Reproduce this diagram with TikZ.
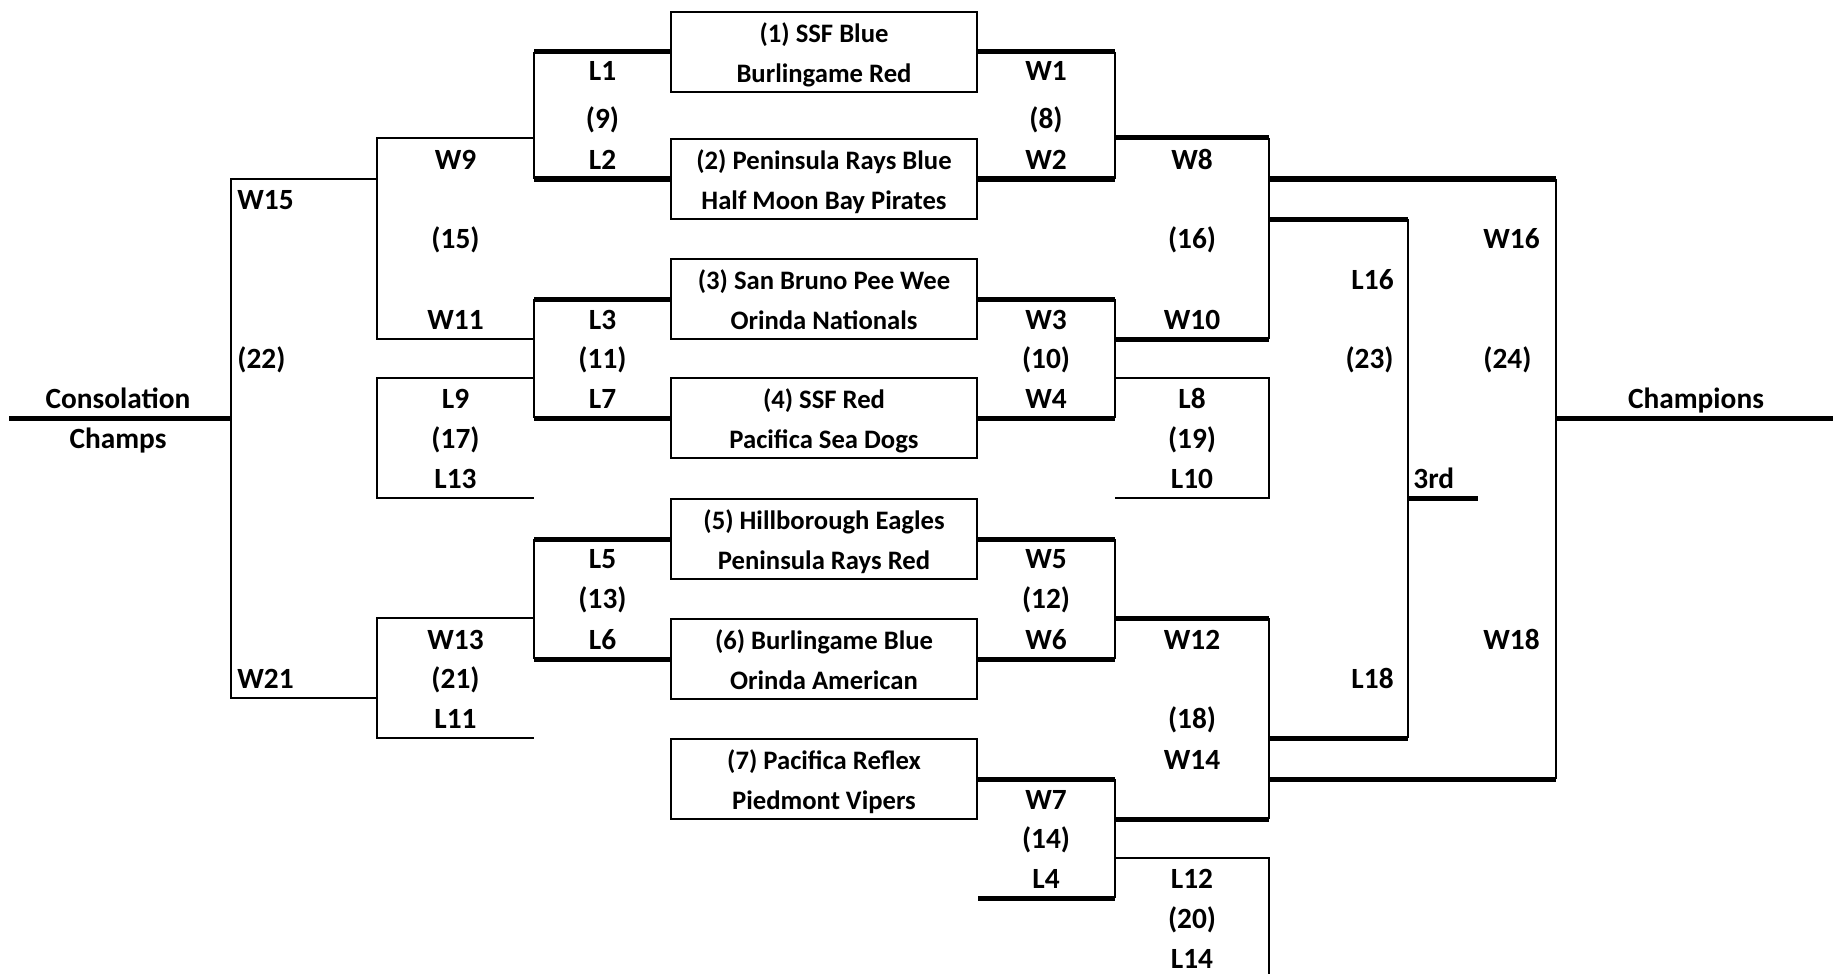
\documentclass[tikz,border=0pt]{standalone}
\usepackage{fontspec}
\setmainfont{Carlito}

\begin{document}
\begin{tikzpicture}[x=0.5pt, y=-0.5pt,
  team/.style = {draw, line width=1.35pt, minimum width=153pt, inner sep=0pt, align=center,
                 text height=35.25pt, text depth=4.75pt, font=\bfseries\fontsize{13.33}{20}\selectfont},
  lbl/.style = {anchor=base, inner sep=0pt, font=\bfseries\fontsize{14.67}{20}\selectfont},
  heavy/.style = {line width=2.5pt},
  light/.style = {line width=1pt}]
\useasboundingbox (0,0) rectangle (1837,974);

% first round
\node[team] (b1) at (824,52) {(1) SSF Blue\\Burlingame Red};
\node[team] (b2) at (824,179) {(2) Peninsula Rays Blue\\Half Moon Bay Pirates};
\node[team] (b3) at (824,299) {(3) San Bruno Pee Wee\\Orinda Nationals};
\node[team] (b4) at (824,418) {(4) SSF Red\\Pacifica Sea Dogs};
\node[team] (b5) at (824,539) {(5) Hillborough Eagles\\Peninsula Rays Red};
\node[team] (b6) at (824,659) {(6) Burlingame Blue\\Orinda American};
\node[team] (b7) at (824,779) {(7) Pacifica Reflex\\Piedmont Vipers};

% bracket corners, losers side
\coordinate (p9a) at (534,52);   \coordinate (p9b) at (534,179);
\coordinate (p11a) at (534,299); \coordinate (p11b) at (534,418);
\coordinate (p13a) at (534,539); \coordinate (p13b) at (534,659);
\coordinate (p15a) at (377,138); \coordinate (p15b) at (377,339);
\coordinate (p17a) at (377,378); \coordinate (p17b) at (377,498);
\coordinate (p21a) at (377,618); \coordinate (p21b) at (377,738);
\coordinate (p22a) at (231,179); \coordinate (p22b) at (231,698);
\coordinate (consol) at (9,418);

% bracket corners, winners side
\coordinate (p8a) at (1115,52);   \coordinate (p8b) at (1115,179);
\coordinate (p10a) at (1115,299); \coordinate (p10b) at (1115,418);
\coordinate (p12a) at (1115,539); \coordinate (p12b) at (1115,659);
\coordinate (p14a) at (1115,779); \coordinate (p14b) at (1115,898);
\coordinate (p16a) at (1269,138); \coordinate (p16b) at (1269,339);
\coordinate (p19a) at (1269,378); \coordinate (p19b) at (1269,498);
\coordinate (p18a) at (1269,618); \coordinate (p18b) at (1269,819);
\coordinate (p20a) at (1269,858); \coordinate (p20b) at (1269,974);
\coordinate (p23a) at (1408,219); \coordinate (p23b) at (1408,738);
\coordinate (p24a) at (1556,179); \coordinate (p24b) at (1556,779);
\coordinate (third) at (1478,498);
\coordinate (champ) at (1833,418);

% losers side
\draw[heavy] (b1.west) -- (p9a) (b2.west) -- (p9b);
\draw[light] (p9a) -- (p9b);
\draw[heavy] (b3.west) -- (p11a) (b4.west) -- (p11b);
\draw[light] (p11a) -- (p11b);
\draw[heavy] (b5.west) -- (p13a) (b6.west) -- (p13b);
\draw[light] (p13a) -- (p13b);
\draw[light] (p9a |- p15a) -- (p15a) -- (p15b) -- (p11a |- p15b);
\draw[light] (p11a |- p17a) -- (p17a) -- (p17b) -- (p11a |- p17b);
\draw[light] (p13a |- p21a) -- (p21a) -- (p21b) -- (p13a |- p21b);
\draw[light] (p15a |- p22a) -- (p22a) -- (p22b) -- (p21a |- p22b);
\draw[heavy] (consol) -- (consol -| p22a);

% winners side
\draw[heavy] (b1.east) -- (p8a) (b2.east) -- (p8b);
\draw[light] (p8a) -- (p8b);
\draw[heavy] (b3.east) -- (p10a) (b4.east) -- (p10b);
\draw[light] (p10a) -- (p10b);
\draw[heavy] (b5.east) -- (p12a) (b6.east) -- (p12b);
\draw[light] (p12a) -- (p12b);
\draw[heavy] (b7.east) -- (p14a) (b7.east |- p14b) -- (p14b);
\draw[light] (p14a) -- (p14b);
\draw[heavy] (p8a |- p16a) -- (p16a) (p10a |- p16b) -- (p16b);
\draw[light] (p16a) -- (p16b);
\draw[light] (p10a |- p19a) -- (p19a) -- (p19b) -- (p10a |- p19b);
\draw[heavy] (p12a |- p18a) -- (p18a) (p14a |- p18b) -- (p18b);
\draw[light] (p18a) -- (p18b);
\draw[light] (p14a |- p20a) -- (p20a) -- (p20b);
\draw[heavy] (p16a |- p23a) -- (p23a) (p18a |- p23b) -- (p23b);
\draw[light] (p23a) -- (p23b);
\draw[heavy] (p23a |- third) -- (third);
\draw[heavy] (p16a |- p24a) -- (p24a) (p18a |- p24b) -- (p24b);
\draw[light] (p24a) -- (p24b);
\draw[heavy] (p24a |- champ) -- (champ);

% labels, losers side
\node[lbl] (l1) at (602.5,80.5) {L1};
\node[lbl] (n9) at (602.5,128.5) {(9)};
\node[lbl] (l2) at (602.5,169.5) {L2};
\node[lbl] (l3) at (602.5,329.5) {L3};
\node[lbl] (n11) at (602.5,368.5) {(11)};
\node[lbl] (l7) at (602.5,408.5) {L7};
\node[lbl] (l5) at (602.5,568.5) {L5};
\node[lbl] (n13) at (602.5,608.5) {(13)};
\node[lbl] (l6) at (602.5,649.5) {L6};
\node[lbl] (w9) at (455.5,169.5) {W9};
\node[lbl] (n15) at (455.5,248.5) {(15)};
\node[lbl] (w11) at (455.5,329.5) {W11};
\node[lbl] (l9) at (455.5,408.5) {L9};
\node[lbl] (n17) at (455.5,448.5) {(17)};
\node[lbl] (l13) at (455.5,488.5) {L13};
\node[lbl] (w13) at (455.5,649.5) {W13};
\node[lbl] (n21) at (455.5,688.5) {(21)};
\node[lbl] (l11) at (455.5,728.5) {L11};
\node[lbl, anchor=base west] (w15) at (237,209.5) {W15};
\node[lbl, anchor=base west] (n22) at (237,368.5) {(22)};
\node[lbl, anchor=base west] (w21) at (237,688.5) {W21};
\node[lbl] (cons) at (118,408.5) {Consolation};
\node[lbl] (chmp) at (118,448.5) {Champs};

% labels, winners side
\node[lbl] (w1) at (1046,80.5) {W1};
\node[lbl] (n8) at (1046,128.5) {(8)};
\node[lbl] (w2) at (1046,169.5) {W2};
\node[lbl] (w3) at (1046,329.5) {W3};
\node[lbl] (n10) at (1046,368.5) {(10)};
\node[lbl] (w4) at (1046,408.5) {W4};
\node[lbl] (w5) at (1046,568.5) {W5};
\node[lbl] (n12) at (1046,608.5) {(12)};
\node[lbl] (w6) at (1046,649.5) {W6};
\node[lbl] (w7) at (1046,809.5) {W7};
\node[lbl] (n14) at (1046,848.5) {(14)};
\node[lbl] (l4) at (1046,888.5) {L4};
\node[lbl] (w8) at (1192,169.5) {W8};
\node[lbl] (n16) at (1192,248.5) {(16)};
\node[lbl] (w10) at (1192,329.5) {W10};
\node[lbl] (l8) at (1192,408.5) {L8};
\node[lbl] (n19) at (1192,448.5) {(19)};
\node[lbl] (l10) at (1192,488.5) {L10};
\node[lbl] (w12) at (1192,649.5) {W12};
\node[lbl] (n18) at (1192,728.5) {(18)};
\node[lbl] (w14) at (1192,769.5) {W14};
\node[lbl] (l12) at (1192,888.5) {L12};
\node[lbl] (n20) at (1192,928.5) {(20)};
\node[lbl] (l14) at (1192,968.5) {L14};
\node[lbl, anchor=base east] (l16) at (1394,289.5) {L16};
\node[lbl, anchor=base east] (n23) at (1394,368.5) {(23)};
\node[lbl, anchor=base east] (l18) at (1394,688.5) {L18};
\node[lbl, anchor=base west] (t3rd) at (1413,488.5) {3rd};
\node[lbl, anchor=base west] (w16) at (1483,248.5) {W16};
\node[lbl, anchor=base west] (n24) at (1483,368.5) {(24)};
\node[lbl, anchor=base west] (w18) at (1483,649.5) {W18};
\node[lbl] (chmps) at (1696,408.5) {Champions};

\end{tikzpicture}
\end{document}
